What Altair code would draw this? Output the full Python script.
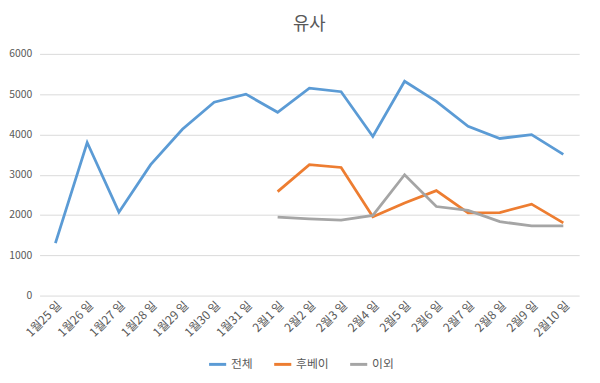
import altair as alt
import pandas as pd

dates = ["1월25 일", "1월26 일", "1월27 일", "1월28 일", "1월29 일", "1월30 일", "1월31 일",
         "2월1 일", "2월2 일", "2월3 일", "2월4 일", "2월5 일", "2월6 일", "2월7 일",
         "2월8 일", "2월9 일", "2월10 일"]
total = [1300, 3800, 2070, 3250, 4130, 4800, 5000, 4550, 5150, 5060, 3950, 5320, 4820,
         4200, 3900, 3995, 3505]
hubei = [None] * 7 + [2580, 3250, 3180, 1955, 2300, 2605, 2055, 2060, 2270, 1805]
other = [None] * 7 + [1950, 1905, 1875, 1990, 3000, 2210, 2115, 1835, 1728, 1728]
series = ["전체", "후베이", "이외"]
colors = ["#5B9BD5", "#ED7D31", "#A5A5A5"]

rows = []
for name, vals in zip(series, [total, hubei, other]):
    for i, (d, v) in enumerate(zip(dates, vals)):
        if v is not None:
            rows.append({"date": d, "value": v, "series": name, "order": i})
df = pd.DataFrame(rows)

FONT = "Noto Sans CJK KR"

chart = alt.Chart(df).mark_line(strokeWidth=2.8, strokeJoin="miter").encode(
    x=alt.X("date:N", sort=dates, scale=alt.Scale(domain=dates, paddingInner=0, paddingOuter=0.5),
            axis=alt.Axis(title=None, labelAngle=-45, labelFontSize=12, labelColor="#595959",
                          ticks=False, domain=False, grid=False, labelPadding=4, labelFont=FONT)),
    y=alt.Y("value:Q", scale=alt.Scale(domain=[0, 6000], nice=False),
            axis=alt.Axis(title=None, values=[0, 1000, 2000, 3000, 4000, 5000, 6000], format="d",
                          labelFontSize=10.5, labelColor="#595959", ticks=False, domain=False,
                          gridColor="#D9D9D9", gridWidth=1, labelPadding=8, labelFont=FONT)),
    color=alt.Color("series:N", scale=alt.Scale(domain=series, range=colors),
                    legend=alt.Legend(title=None, orient="none", direction="horizontal",
                                      legendX=170, legendY=304, symbolType="stroke",
                                      symbolStrokeWidth=3, symbolSize=300, labelFontSize=12,
                                      labelColor="#595959", labelFont=FONT, columnPadding=14,
                                      labelOffset=3)),
    detail="series:N",
    order="order:Q",
).properties(
    width=547,
    height=245,
    title=alt.TitleParams("유사", fontSize=18, color="#595959", font=FONT, fontWeight="normal",
                          offset=15, anchor="middle"),
    autosize=alt.AutoSizeParams(type="none"),
    padding={"left": 32, "top": 44, "right": 13, "bottom": 78},
).configure_view(stroke=None)

chart.save("out.html", embed_options={"renderer": "svg", "actions": False})
